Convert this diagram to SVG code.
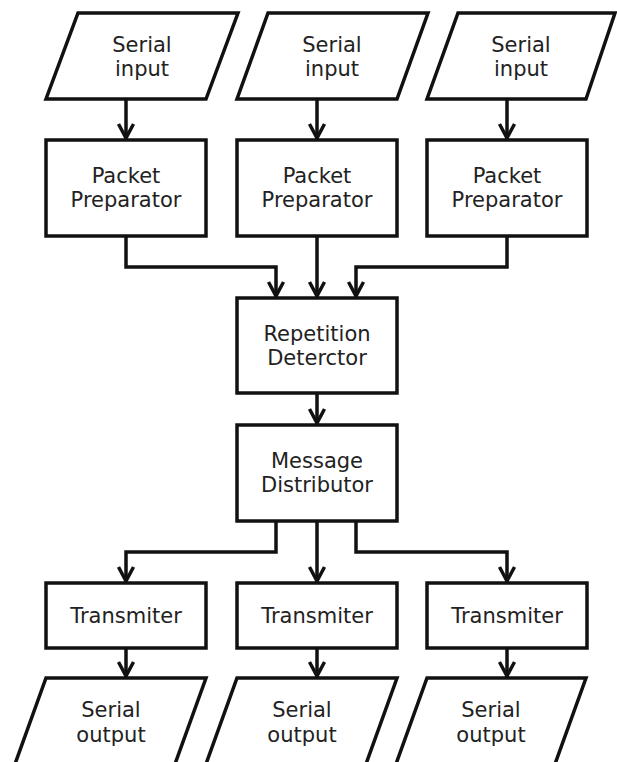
<svg xmlns="http://www.w3.org/2000/svg" width="617" height="762" viewBox="0 0 617 762">
<defs>
<style>
.shape{fill:#fff;stroke:#111;stroke-width:3.5;stroke-linejoin:miter}
.conn{fill:none;stroke:#111;stroke-width:3.5;stroke-linejoin:miter}
.lbl{font-family:"DejaVu Sans",Verdana,sans-serif;font-size:21px;fill:#222;text-anchor:middle}
</style>
<marker id="arr" markerUnits="userSpaceOnUse" markerWidth="20" markerHeight="20" viewBox="-16 -10 20 20" refX="0" refY="0" orient="auto" overflow="visible">
<path d="M-15,-7.5 L-1,0 L-15,7.5" fill="none" stroke="#111" stroke-width="3.5"/>
</marker>
</defs>
<rect width="617" height="762" fill="#fff"/>

<g id="connectors">
<path class="conn" d="M126,99 V139" marker-end="url(#arr)"/>
<path class="conn" d="M317,99 V139" marker-end="url(#arr)"/>
<path class="conn" d="M507,99 V139" marker-end="url(#arr)"/>
<path class="conn" d="M126,236 V267 H276 V297" marker-end="url(#arr)"/>
<path class="conn" d="M317,236 V297" marker-end="url(#arr)"/>
<path class="conn" d="M507,236 V267 H356 V297" marker-end="url(#arr)"/>
<path class="conn" d="M317,393 V424" marker-end="url(#arr)"/>
<path class="conn" d="M276,521 V552 H126 V582" marker-end="url(#arr)"/>
<path class="conn" d="M317,521 V582" marker-end="url(#arr)"/>
<path class="conn" d="M356,521 V552 H507 V582" marker-end="url(#arr)"/>
<path class="conn" d="M126,648 V677" marker-end="url(#arr)"/>
<path class="conn" d="M317,648 V677" marker-end="url(#arr)"/>
<path class="conn" d="M507,648 V677" marker-end="url(#arr)"/>
</g>

<g id="input1">
<polygon class="shape" points="78,13 238,13 206,99 46,99"/>
<text class="lbl" x="142" y="52">Serial</text>
<text class="lbl" x="142" y="76">input</text>
</g>
<g id="input2">
<polygon class="shape" points="268,13 428,13 397,99 237,99"/>
<text class="lbl" x="332" y="52">Serial</text>
<text class="lbl" x="332" y="76">input</text>
</g>
<g id="input3">
<polygon class="shape" points="458,13 615,13 586,99 427,99"/>
<text class="lbl" x="521" y="52">Serial</text>
<text class="lbl" x="521" y="76">input</text>
</g>

<g id="prep1">
<rect class="shape" x="46" y="140" width="160" height="96"/>
<text class="lbl" x="126" y="183">Packet</text>
<text class="lbl" x="126" y="207">Preparator</text>
</g>
<g id="prep2">
<rect class="shape" x="237" y="140" width="160" height="96"/>
<text class="lbl" x="317" y="183">Packet</text>
<text class="lbl" x="317" y="207">Preparator</text>
</g>
<g id="prep3">
<rect class="shape" x="427" y="140" width="160" height="96"/>
<text class="lbl" x="507" y="183">Packet</text>
<text class="lbl" x="507" y="207">Preparator</text>
</g>

<g id="repetition">
<rect class="shape" x="237" y="298" width="160" height="95"/>
<text class="lbl" x="317" y="341">Repetition</text>
<text class="lbl" x="317" y="365">Deterctor</text>
</g>

<g id="distributor">
<rect class="shape" x="237" y="425" width="160" height="96"/>
<text class="lbl" x="317" y="468">Message</text>
<text class="lbl" x="317" y="492">Distributor</text>
</g>

<g id="tx1">
<rect class="shape" x="46" y="583" width="160" height="65"/>
<text class="lbl" x="126" y="623">Transmiter</text>
</g>
<g id="tx2">
<rect class="shape" x="237" y="583" width="160" height="65"/>
<text class="lbl" x="317" y="623">Transmiter</text>
</g>
<g id="tx3">
<rect class="shape" x="427" y="583" width="160" height="65"/>
<text class="lbl" x="507" y="623">Transmiter</text>
</g>

<g id="output1">
<polygon class="shape" points="46,678 206,678 175,764 15,764"/>
<text class="lbl" x="111" y="717">Serial</text>
<text class="lbl" x="111" y="742">output</text>
</g>
<g id="output2">
<polygon class="shape" points="237,678 397,678 366,764 206,764"/>
<text class="lbl" x="302" y="717">Serial</text>
<text class="lbl" x="302" y="742">output</text>
</g>
<g id="output3">
<polygon class="shape" points="427,678 586,678 555,764 396,764"/>
<text class="lbl" x="491" y="717">Serial</text>
<text class="lbl" x="491" y="742">output</text>
</g>
</svg>
